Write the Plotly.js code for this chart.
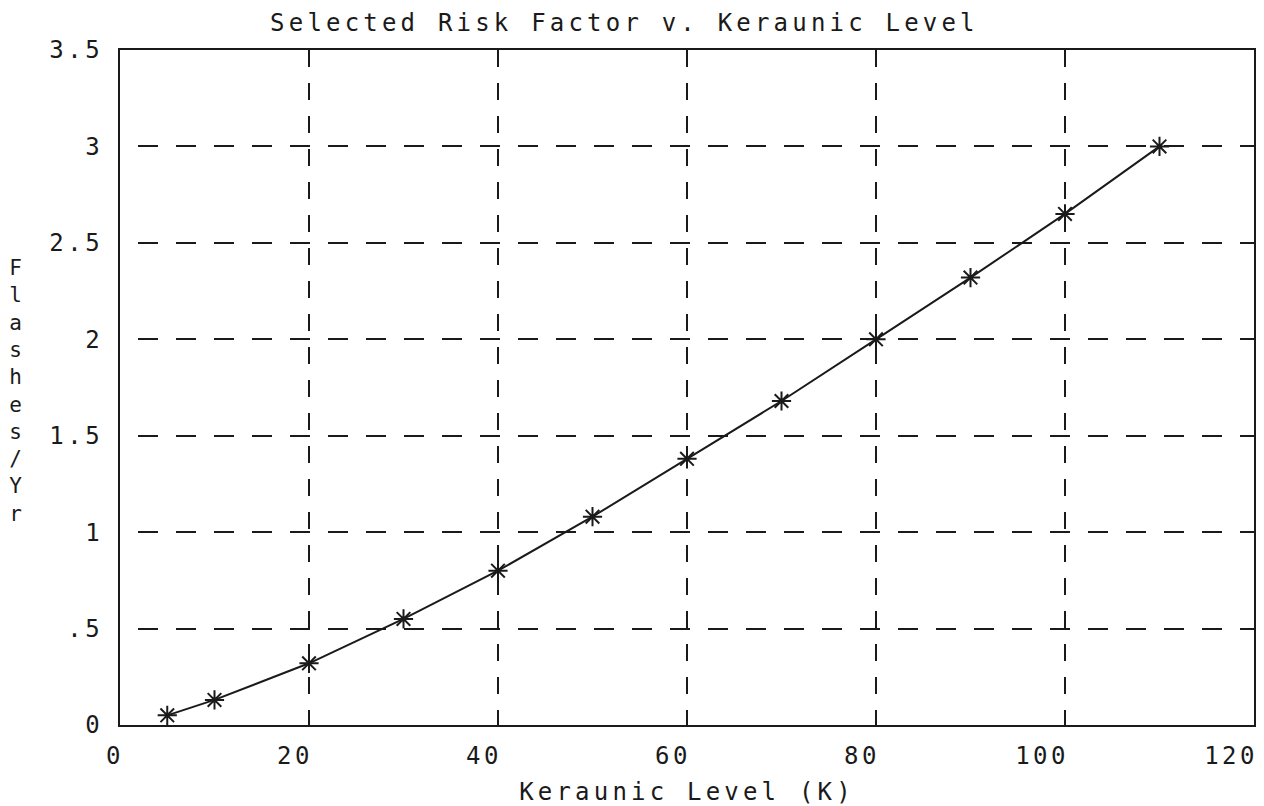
<!DOCTYPE html>
<html>
<head>
<meta charset="utf-8">
<script src="https://cdn.plot.ly/plotly-3.0.1.min.js"></script>
<style>
  html, body { margin: 0; padding: 0; background: #fff; }
  #chart { width: 1264px; height: 806px; }
  .js-plotly-plot .main-svg text { letter-spacing: 3.5px; }
  .js-plotly-plot .main-svg .gtitle,
  .js-plotly-plot .main-svg .xtitle { letter-spacing: 4.2px; }
</style>
</head>
<body>
<div id="chart"></div>
<script>
// Keraunic level (K) and selected risk factor (flashes/yr)
const keraunicLevel = [5, 10, 20, 30, 40, 50, 60, 70, 80, 90, 100, 110];
const flashesPerYear = [0.05, 0.13, 0.32, 0.55, 0.80, 1.08, 1.38, 1.68, 2.00, 2.32, 2.65, 3.00];

const xTickVals = [0, 20, 40, 60, 80, 100, 120];
const xTickText = ['0', '20', '40', '60', '80', '100', '120'];
const yTickVals = [0, 0.5, 1, 1.5, 2, 2.5, 3, 3.5];
const yTickText = ['0', '.5', '1', '1.5', '2', '2.5', '3', '3.5'];

const titleText = 'Selected Risk Factor v. Keraunic Level';
const xTitleText = 'Keraunic Level (K)';
const yTitleText = 'Flashes/Yr';

const fontFamily = '"DejaVu Sans Mono", "Liberation Mono", monospace';
const ink = '#1a1a1a';

const trace = {
  x: keraunicLevel,
  y: flashesPerYear,
  type: 'scatter',
  mode: 'lines+markers',
  line: { color: ink, width: 2 },
  marker: { symbol: 'asterisk-open', size: 16, color: ink, line: { color: ink, width: 2 } },
  hoverinfo: 'x+y',
  showlegend: false
};

const layout = {
  width: 1264,
  height: 806,
  margin: { l: 120, r: 10, t: 50, b: 81 },
  paper_bgcolor: '#ffffff',
  plot_bgcolor: '#ffffff',
  font: { family: fontFamily, color: ink, size: 23 },
  title: {
    text: titleText,
    font: { family: fontFamily, size: 24, color: ink },
    xref: 'container', x: 0.494, xanchor: 'center',
    yref: 'container', y: 0.972, yanchor: 'middle'
  },
  xaxis: {
    range: [0, 120],
    tickvals: xTickVals,
    ticktext: xTickText,
    ticks: '',
    ticklabelposition: 'outside left',
    ticklabelstandoff: 8,
    ticklabelshift: 5,
    tickfont: { family: fontFamily, size: 24, color: ink },
    showline: true, mirror: true, linecolor: ink, linewidth: 2,
    showgrid: true, gridcolor: ink, gridwidth: 2, griddash: '17px,16px',
    zeroline: false,
    title: { text: xTitleText, font: { family: fontFamily, size: 24, color: ink }, standoff: 18 }
  },
  yaxis: {
    range: [0, 3.5],
    tickvals: yTickVals,
    ticktext: yTickText,
    ticks: '',
    ticklabelstandoff: 10,
    tickfont: { family: fontFamily, size: 24, color: ink },
    showline: true, mirror: true, linecolor: ink, linewidth: 2,
    showgrid: true, gridcolor: ink, gridwidth: 2, griddash: '0px,18px,20px,0px',
    zeroline: false,
    title: { text: '' }
  },
  annotations: [{
    text: yTitleText.split('').join('<br>'),
    xref: 'paper', yref: 'paper',
    x: -0.09, y: 0.495,
    xanchor: 'center', yanchor: 'middle',
    showarrow: false,
    font: { family: fontFamily, size: 21, color: ink }
  }]
};

Plotly.newPlot('chart', [trace], layout, { displayModeBar: false, staticPlot: true });
</script>
</body>
</html>
